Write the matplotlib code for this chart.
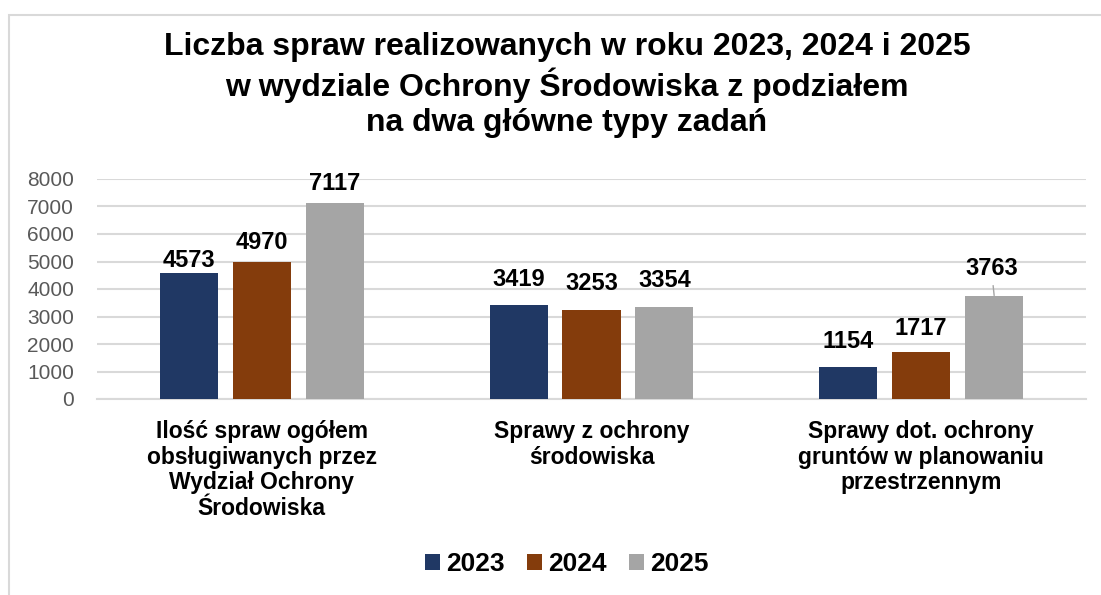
import matplotlib
matplotlib.use("Agg")
import matplotlib.pyplot as plt
import numpy as np

plt.rcParams["font.family"] = ["Liberation Sans", "DejaVu Sans"]

categories = [
    "Ilość spraw ogółem\nobsługiwanych przez\nWydział Ochrony\nŚrodowiska",
    "Sprawy z ochrony\nśrodowiska",
    "Sprawy dot. ochrony\ngruntów w planowaniu\nprzestrzennym",
]
years = ["2023", "2024", "2025"]
v2023 = [4573, 3419, 1154]
v2024 = [4970, 3253, 1717]
v2025 = [7117, 3354, 3763]
yticks = [0, 1000, 2000, 3000, 4000, 5000, 6000, 7000, 8000]

NAVY, BROWN, GRAY = "#203864", "#843C0C", "#A5A5A5"
colors = [NAVY, BROWN, GRAY]
# height of each value label's centre above its bar top, in points
lifts = [[9.5, 18.2, 18.6], [14.6, 18.4, 17.0], [14.5, 19.2, 19.4]]

fig = plt.figure(figsize=(11.01, 5.95), dpi=100)
ax = fig.add_axes([97 / 1101, 1 - 399 / 595, (1086 - 97) / 1101, 220 / 595])

# outer chart frame (only top and left edges fall inside the image)
fig.patches.append(plt.Rectangle((9 / 1101, -0.1), 1.2, 1 - 15 / 595 + 0.1,
                                 transform=fig.transFigure, fill=False,
                                 edgecolor="#D9D9D9", lw=1.5, zorder=0))

x = np.arange(len(categories))
step, width = 0.2214, 0.176
series = [v2023, v2024, v2025]
for i, (vals, col, yr) in enumerate(zip(series, colors, years)):
    xs = x + (i - 1) * step
    ax.bar(xs, vals, width, color=col, label=yr, zorder=3)
    for j, (xx, v) in enumerate(zip(xs, vals)):
        lift = lifts[i][j]
        if i == 2 and j == 2:
            ax.annotate(str(v), xy=(xx, v), xytext=(-2, lift),
                        textcoords="offset points", ha="center", va="center",
                        fontsize=17, fontweight="bold", color="black",
                        arrowprops=dict(arrowstyle="-", color="#A5A5A5", lw=1,
                                        shrinkA=2, shrinkB=0))
        else:
            ax.annotate(str(v), xy=(xx, v), xytext=(0, lift),
                        textcoords="offset points", ha="center", va="center",
                        fontsize=17, fontweight="bold", color="black")

ax.set_xlim(-0.5, 2.5)
ax.set_ylim(0, 8000)
ax.set_yticks(yticks)
ax.set_yticklabels([str(t) for t in yticks], fontsize=15, color="#595959")
ax.yaxis.grid(True, color="#D9D9D9", lw=1.5, zorder=0)
ax.set_axisbelow(True)
ax.tick_params(axis="y", length=0, pad=16.5)
ax.set_xticks(x)
ax.set_xticklabels(categories, fontsize=16.5, fontweight="bold", linespacing=1.15,
                   va="top")
ax.tick_params(axis="x", length=0, pad=15)
for s in ["top", "right", "left"]:
    ax.spines[s].set_visible(False)
ax.spines["bottom"].set_color("#D9D9D9")
ax.spines["bottom"].set_linewidth(1.5)

fig.text(567 / 1101, 1 - 85 / 595,
         "Liczba spraw realizowanych w roku 2023, 2024 i 2025\n"
         "w wydziale Ochrony Środowiska z podziałem\n"
         "na dwa główne typy zadań",
         ha="center", va="center", fontsize=23, fontweight="bold",
         linespacing=1.2)

fig.legend(loc="center", bbox_to_anchor=(567 / 1101, 1 - 564 / 595), ncol=3,
           frameon=False, prop={"size": 19, "weight": "bold"},
           handlelength=0.55, handleheight=0.55, handletextpad=0.25,
           columnspacing=0.85)

fig.savefig("out.png", dpi=100, facecolor="white")
